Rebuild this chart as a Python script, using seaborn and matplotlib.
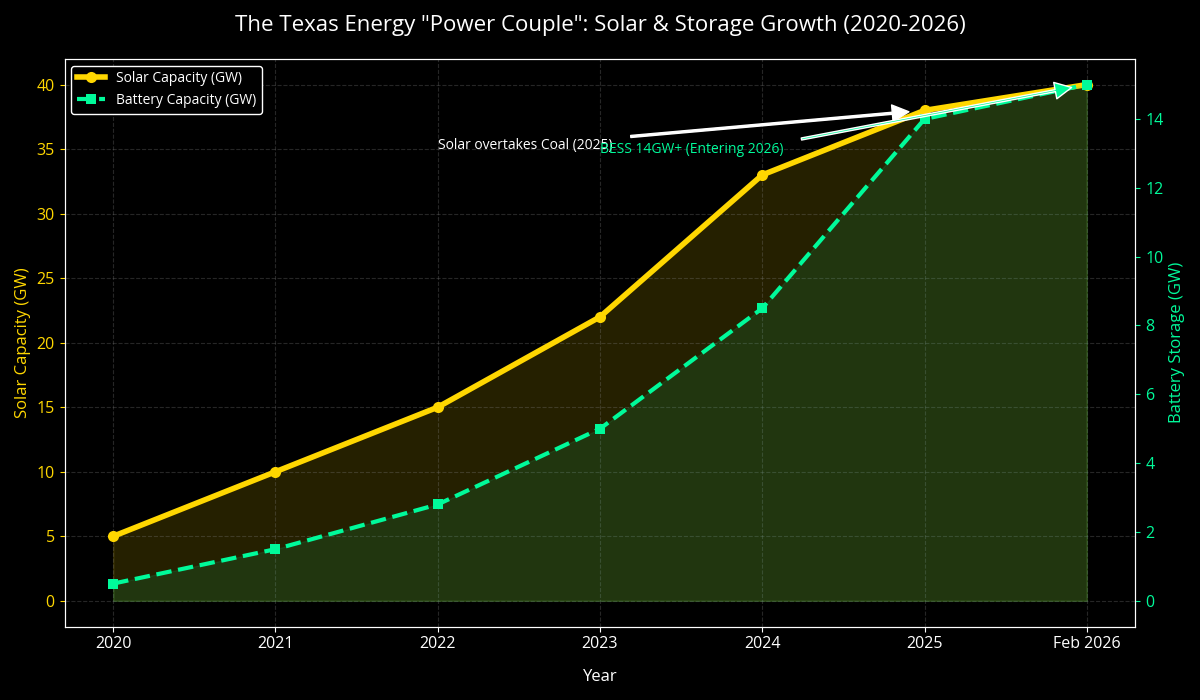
import pandas as pd
import matplotlib
matplotlib.use('Agg')
import matplotlib.pyplot as plt
import seaborn as sns
import numpy as np

# Data
years = ['2020', '2021', '2022', '2023', '2024', '2025', 'Feb 2026']
solar_gw = [5, 10, 15, 22, 33, 38, 40]
battery_gw = [0.5, 1.5, 2.8, 5, 8.5, 14, 15]

solar_color = '#FFD700'
battery_color = '#00FA9A'

df = pd.DataFrame({'year': years, 'solar': solar_gw, 'battery': battery_gw})
df['idx'] = np.arange(len(years))

plt.style.use('dark_background')
plt.rcParams['font.family'] = ['Open Sans', 'DejaVu Sans']

fig, ax1 = plt.subplots(figsize=(12, 7), dpi=100)
ax2 = ax1.twinx()

# Solar (left axis)
sns.lineplot(x='idx', y='solar', data=df, ax=ax1, color=solar_color, linewidth=4,
             marker='o', markersize=8, markeredgewidth=0, label='Solar Capacity (GW)', legend=False)
ax1.fill_between(df['idx'], df['solar'], color=solar_color, alpha=0.15)

# Battery (right axis)
sns.lineplot(x='idx', y='battery', data=df, ax=ax2, color=battery_color, linewidth=3,
             linestyle='--', marker='s', markersize=7, markeredgewidth=0,
             label='Battery Capacity (GW)', legend=False)
ax2.fill_between(df['idx'], df['battery'], color=battery_color, alpha=0.1)

# Axes styling
ax1.set_xticks(df['idx'])
ax1.set_xticklabels(years, fontsize=11.5, color='white')
ax1.set_xlabel('Year', fontsize=12, color='white', labelpad=12)
ax1.set_ylabel('Solar Capacity (GW)', fontsize=12, color=solar_color)
ax2.set_ylabel('Battery Storage (GW)', fontsize=12, color=battery_color)
ax1.tick_params(axis='y', colors=solar_color, labelsize=11.5)
ax2.tick_params(axis='y', colors=battery_color, labelsize=11.5)
ax1.tick_params(axis='x', colors='white')
ax1.grid(True, linestyle='--', color='gray', alpha=0.3)
ax2.grid(False)

for ax in (ax1, ax2):
    for s in ax.spines.values():
        s.set_color('white')

ax1.set_title('The Texas Energy "Power Couple": Solar & Storage Growth (2020-2026)',
              fontsize=16, color='white', pad=20)

# Annotations
ax1.annotate('Solar overtakes Coal (2025)', xy=(5, 38), xytext=(2, 35),
             color='white', fontsize=10,
             arrowprops=dict(facecolor='white', shrink=0.05, width=1.5, headwidth=12))
ax2.annotate('BESS 14GW+ (Entering 2026)', xy=(6, 15), xytext=(3, 13),
             color=battery_color, fontsize=10,
             arrowprops=dict(facecolor=battery_color, shrink=0.05, width=1.5, headwidth=12))

# Combined legend
h1, l1 = ax1.get_legend_handles_labels()
h2, l2 = ax2.get_legend_handles_labels()
leg = ax1.legend(h1 + h2, l1 + l2, loc='upper left', facecolor='black',
                 edgecolor='white', fontsize=10, framealpha=1)
for t in leg.get_texts():
    t.set_color('white')

plt.tight_layout()
plt.savefig('out.png', dpi=100, facecolor='black')
